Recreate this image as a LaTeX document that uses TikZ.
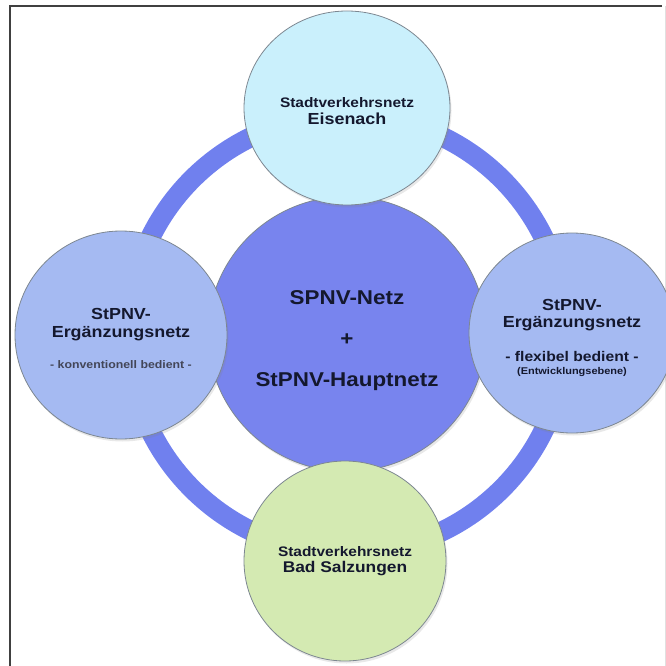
\documentclass[tikz,border=0pt]{standalone}
\usepackage{fontspec}
\setmainfont{Liberation Sans}
\newfontfamily\netzfont[FakeStretch=1.12]{Liberation Sans}
\usetikzlibrary{shapes.geometric,shadows}
\definecolor{ringblau}{RGB}{112,128,238}
\definecolor{kernblau}{RGB}{120,132,238}
\definecolor{hellblau}{RGB}{165,186,242}
\definecolor{eisblau}{RGB}{202,240,252}
\definecolor{hellgruen}{RGB}{212,234,178}
\definecolor{randgrau}{RGB}{125,135,145}
\definecolor{schrift}{RGB}{20,24,46}
\tikzset{
	kreis/.style={ellipse, draw=randgrau, line width=0.8pt, inner sep=0pt, drop shadow={opacity=0.18, shadow xshift=1.5pt, shadow yshift=-2.5pt}},
	beschriftung/.style={align=center, text=schrift, inner sep=0pt},
	rahmen/.style={line width=2pt, color=black!75}
}

\begin{document}
\begin{tikzpicture}[x=1pt, y=-1pt]
		\useasboundingbox (0,0) rectangle (666,666);
		\clip (0,0) rectangle (666,666);
		\coordinate (lo) at (10,6.5);
		\coordinate (ro) at (662,6.5);
		\coordinate (lu) at (10,666);
		\draw[rahmen] (ro) -- (lo) -- (lu);
		\draw[black!12, line width=1pt] (665,6) -- (665,666);
		\node[circle, draw=ringblau, line width=20pt, minimum size=438, inner sep=0pt] (ring) at (347,334) { };
		\node[kreis, fill=kernblau, minimum width=278, minimum height=275] (kern) at (347,334) { };
		\node[kreis, fill=eisblau, minimum width=206, minimum height=194] (eisenach) at (347,108) { };
		\node[kreis, fill=hellblau, minimum width=212, minimum height=208] (konv) at (121,335) { };
		\node[kreis, fill=hellblau, minimum width=206, minimum height=200] (flex) at (572,333) { };
		\node[kreis, fill=hellgruen, minimum width=202, minimum height=200] (salzungen) at (345,561) { };
		\node[beschriftung, font=\netzfont\bfseries\fontsize{20}{41}\selectfont] (kerntext) at (347,341) {SPNV-Netz\\+\\StPNV-Hauptnetz};
		\node[beschriftung, font=\netzfont\bfseries\fontsize{16}{17}\selectfont] (eisenachtext) at (347,111) {{\fontsize{13.8}{17}\selectfont Stadtverkehrsnetz}\\Eisenach};
		\node[beschriftung, font=\netzfont\bfseries\fontsize{16}{18}\selectfont] (konvtext) at (121,338) {StPNV-\\Ergänzungsnetz\\[13]{\fontsize{11}{18}\selectfont\color{schrift!80} - konventionell bedient -}};
		\node[beschriftung, font=\netzfont\bfseries\fontsize{16}{17}\selectfont] (flextext) at (572,338) {StPNV-\\Ergänzungsnetz\\[17]{\fontsize{14}{17}\selectfont - flexibel bedient -}\\[-4]{\fontsize{9.8}{17}\selectfont (Entwicklungsebene)}};
		\node[beschriftung, font=\netzfont\bfseries\fontsize{15.5}{16}\selectfont] (salzungentext) at (345,561) {{\fontsize{13.8}{16}\selectfont Stadtverkehrsnetz}\\Bad Salzungen};
\end{tikzpicture}
\end{document}
